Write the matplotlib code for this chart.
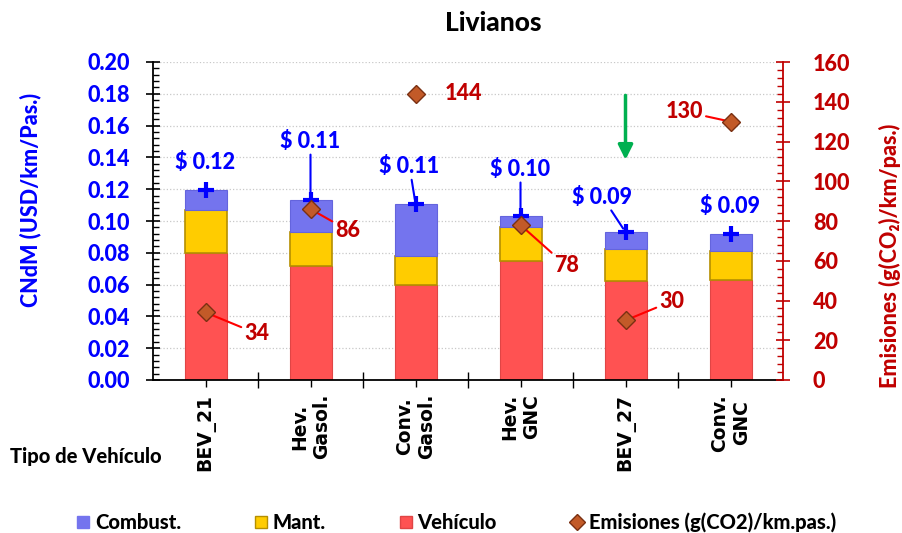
import numpy as np
import matplotlib
matplotlib.use('Agg')
import matplotlib.pyplot as plt
from matplotlib.lines import Line2D
from matplotlib.ticker import MultipleLocator, FixedLocator, FormatStrFormatter

plt.rcParams['font.family'] = 'Lato'
plt.rcParams['font.weight'] = 'black'
HW = 'black'  # Lato Black, closest to the heavy Calibri of the original

# ===============================================================================
# data

categories = ['BEV_21', 'Hev.\nGasol.', 'Conv.\nGasol.', 'Hev.\nGNC', 'BEV_27', 'Conv.\nGNC']
vehiculo = [0.080, 0.072, 0.060, 0.075, 0.062, 0.063]
mant = [0.027, 0.021, 0.018, 0.0215, 0.0205, 0.018]
combust = [0.0125, 0.020, 0.033, 0.0065, 0.0105, 0.011]
cost_labels = ['$ 0.12', '$ 0.11', '$ 0.11', '$ 0.10', '$ 0.09', '$ 0.09']
emisiones = [34, 86, 144, 78, 30, 130]

# ===============================================================================
# label offsets in pixels (dx, dy) and whether a leader line is drawn

cost_offsets = [(0, 27), (0, 59), (-6, 37), (0, 47), (-23, 35), (-1, 27)]
cost_leader = [False, True, True, True, True, False]
emis_offsets = [(51, -21), (37, -21), (48, 0), (46, -41), (46, 19), (-46, 10)]
emis_leader = [True, True, False, True, True, True]

BLUE = '#0000FF'
DRED = '#C00000'

fig = plt.figure(figsize=(9.02, 5.33), dpi=100)
ax = fig.add_axes([153 / 902, 1 - 380 / 533, 630 / 902, 318 / 533])
ax2 = ax.twinx()

x = np.arange(len(categories))
veh = np.array(vehiculo)
mnt = np.array(mant)
cmb = np.array(combust)
total = veh + mnt + cmb

w = 0.4
ax.bar(x, veh, w, color='#FF5252', edgecolor='#E04545', lw=0.8, zorder=2)
ax.bar(x, mnt, w, bottom=veh, color='#FFCC00', edgecolor='#B58F00', lw=1.2, zorder=2)
ax.bar(x, cmb, w, bottom=veh + mnt, color='#7474EE', edgecolor='#6464DD', lw=0.8, zorder=2)
ax.plot(x, total, ls='none', marker='+', ms=11, mew=3, color=BLUE, zorder=4)

for i in range(len(x)):
    dx, dy = cost_offsets[i]
    props = dict(arrowstyle='-', color=BLUE, lw=1.5, shrinkA=0, shrinkB=3) if cost_leader[i] else None
    ax.annotate(cost_labels[i], xy=(x[i], total[i]), xytext=(dx, dy), textcoords='offset pixels',
                ha='center', va='center', fontsize=15.5, fontweight=HW, color=BLUE,
                arrowprops=props, zorder=5)

# green arrow
ax.annotate('', xy=(4, 0.1385), xytext=(4, 0.179),
            arrowprops=dict(arrowstyle='-|>', color='#00B050', lw=2.5, mutation_scale=22, shrinkA=0, shrinkB=0))

ax.set_xlim(-0.5, 5.5)
ax.set_ylim(0, 0.2)
ax.yaxis.set_major_locator(MultipleLocator(0.02))
ax.yaxis.set_minor_locator(MultipleLocator(0.004))
ax.yaxis.set_major_formatter(FormatStrFormatter('%.2f'))
ax.grid(axis='y', color='#C8C8C8', ls=':', lw=0.9, zorder=0)
ax.set_axisbelow(True)

ax.set_xticks(x)
ax.set_xticklabels(categories, rotation=90, family='DejaVu Sans', fontsize=13.5,
                   fontweight='bold', va='top', ha='center', multialignment='center')
ax.xaxis.set_minor_locator(FixedLocator(np.arange(0.5, 5.0, 1.0)))
ax.tick_params(axis='x', which='major', length=5, width=1, direction='out', pad=5)
ax.tick_params(axis='x', which='minor', length=12, width=1, direction='inout')
ax.tick_params(axis='y', which='major', length=10, width=1.2, direction='inout',
               labelsize=15.5, labelcolor=BLUE, pad=11.5)
ax.tick_params(axis='y', which='minor', length=4, width=1, direction='in')

for s in ['top', 'right']:
    ax.spines[s].set_visible(False)
ax.spines['left'].set_linewidth(1.3)
ax.spines['bottom'].set_linewidth(1.3)

# ===============================================================================
# emissions on the right axis

ax2.plot(x, emisiones, ls='none', marker='D', ms=9, mfc='#C25A28', mec='#7A3012', mew=1, zorder=5)
for i in range(len(x)):
    dx, dy = emis_offsets[i]
    props = dict(arrowstyle='-', color='#FF0000', lw=1.5, shrinkA=0, shrinkB=2) if emis_leader[i] else None
    ax2.annotate(str(emisiones[i]), xy=(x[i], emisiones[i]), xytext=(dx, dy), textcoords='offset pixels',
                 ha='center', va='center', fontsize=15.5, fontweight=HW, color=DRED, arrowprops=props)

ax2.set_ylim(0, 160)
ax2.yaxis.set_major_locator(MultipleLocator(20))
ax2.yaxis.set_minor_locator(MultipleLocator(4))
ax2.tick_params(axis='y', which='major', length=10, width=1.2, direction='inout', color=DRED,
                labelsize=15.5, labelcolor=DRED, pad=16.5)
ax2.tick_params(axis='y', which='minor', length=4, width=1, direction='in', color=DRED)
for s in ['top', 'left', 'bottom']:
    ax2.spines[s].set_visible(False)
ax2.spines['right'].set_color(DRED)
ax2.spines['right'].set_linewidth(1.3)

# ===============================================================================
# texts

fig.text(493 / 902, 1 - 23 / 533, 'Livianos', ha='center', va='center', fontsize=19, fontweight=HW)
fig.text(30 / 902, 1 - 200 / 533, 'CNdM (USD/km/Pas.)', rotation=90, ha='center', va='center',
         fontsize=15.5, fontweight=HW, color=BLUE)
fig.text(890 / 902, 1 - 256 / 533, 'Emisiones (g(CO₂)/km/pas.)', rotation=90, ha='center', va='center',
         fontsize=15.5, fontweight=HW, color=DRED)
fig.text(10 / 902, 1 - 456 / 533, 'Tipo de Vehículo', ha='left', va='center', fontsize=14.5, fontweight=HW)

handles = [
    Line2D([], [], ls='none', marker='s', ms=9, mfc='#7474EE', mec='#7474EE'),
    Line2D([], [], ls='none', marker='s', ms=9, mfc='#FFCC00', mec='#B58F00'),
    Line2D([], [], ls='none', marker='s', ms=9, mfc='#FF5252', mec='#E04545'),
    Line2D([], [], ls='none', marker='D', ms=8, mfc='#C25A28', mec='#7A3012'),
]
fig.legend(handles, ['Combust.', 'Mant.', 'Vehículo', 'Emisiones (g(CO2)/km.pas.)'],
           loc='center left', bbox_to_anchor=(76 / 902, 1 - 522 / 533), ncol=4, frameon=False,
           prop=dict(family='Lato', weight=HW, size=14.5),
           handlelength=0.7, handletextpad=0.25, columnspacing=3.6,
           borderpad=0, borderaxespad=0)

fig.savefig('out.png', dpi=100)
